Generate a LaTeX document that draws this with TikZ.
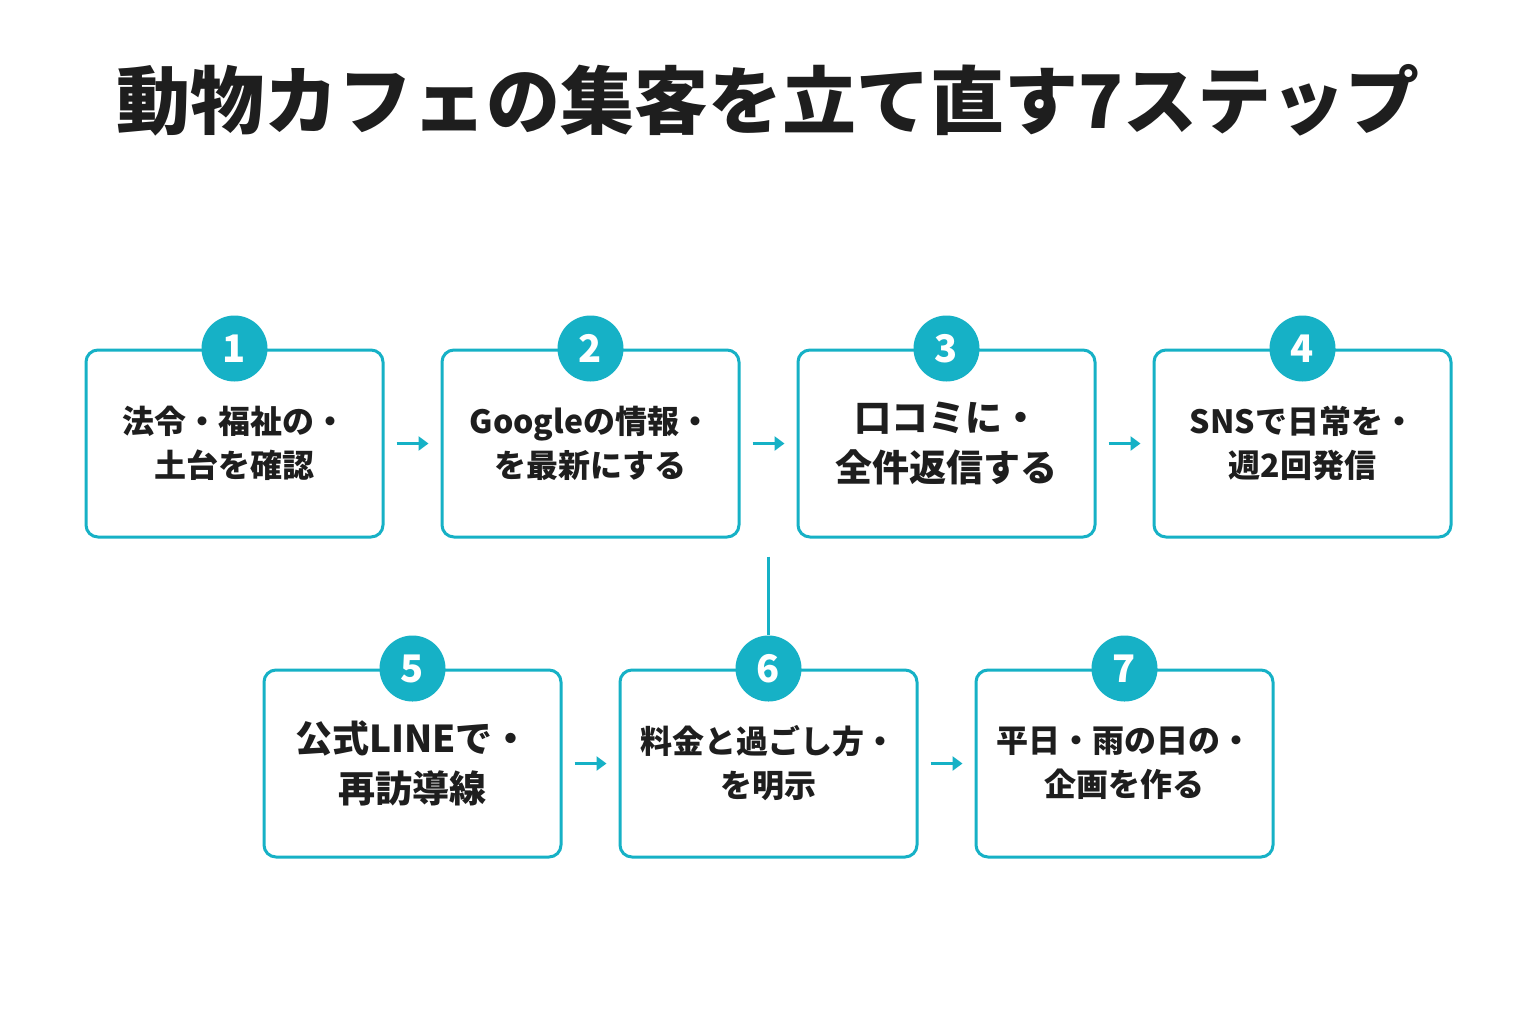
\documentclass[tikz,border=0pt]{standalone}
\usepackage{fontspec}
\setmainfont{Noto Sans CJK JP}
\usetikzlibrary{arrows.meta,positioning,calc}
\definecolor{teal1}{HTML}{16B1C6}
\definecolor{ink}{HTML}{1E1E1E}
\tikzset{
  stepbox/.style={draw=teal1, line width=1.5pt, rounded corners=6pt, minimum width=148.5pt, minimum height=93.5pt, align=center, text=ink, font=\fontsize{16}{22}\selectfont\bfseries},
  num/.style={circle, fill=teal1, minimum size=33pt, inner sep=0pt, text=white, font=\fontsize{19}{19}\selectfont\bfseries},
  arr/.style={draw=teal1, line width=1.5pt, -{Triangle[length=5pt,width=7pt]}}
}
\begin{document}
\begin{tikzpicture}[x=0.5pt,y=-0.5pt]
  \useasboundingbox[fill=white] (0,0) rectangle (1536,1024);
  %title
  \node[text=ink, font=\fontsize{37}{37}\selectfont\bfseries] (title) at (768,100) {動物カフェの集客を立て直す7ステップ};

  %top row
  \node[stepbox] (b1) at (234.5,443.5) {法令・福祉の・\\土台を確認};
  \node[stepbox] (b2) at (590.5,443.5) {Googleの情報・\\を最新にする};
  \node[stepbox, font=\fontsize{18.5}{25}\selectfont\bfseries] (b3) at (946.5,443.5) {口コミに・\\全件返信する};
  \node[stepbox] (b4) at (1302.5,443.5) {SNSで日常を・\\週2回発信};
  %bottom row
  \node[stepbox, font=\fontsize{18.5}{25}\selectfont\bfseries] (b5) at (412.5,763.5) {公式LINEで・\\再訪導線};
  \node[stepbox] (b6) at (768.5,763.5) {料金と過ごし方・\\を明示};
  \node[stepbox] (b7) at (1124.5,763.5) {平日・雨の日の・\\企画を作る};

  \foreach \i in {1,...,7}
    \node[num] (n\i) at (b\i.north) {\i};

  %arrows
  \foreach \a/\b in {b1/b2, b2/b3, b3/b4, b5/b6, b6/b7}
    \draw[arr] ([xshift=6pt]\a.east) -- ([xshift=-6pt]\b.west);
  \coordinate (drop) at ($(b2.south east)!0.5!(b3.south west)+(0,18)$);
  \draw[teal1, line width=1.5pt] (drop) -- (n6.north);
\end{tikzpicture}
\end{document}
